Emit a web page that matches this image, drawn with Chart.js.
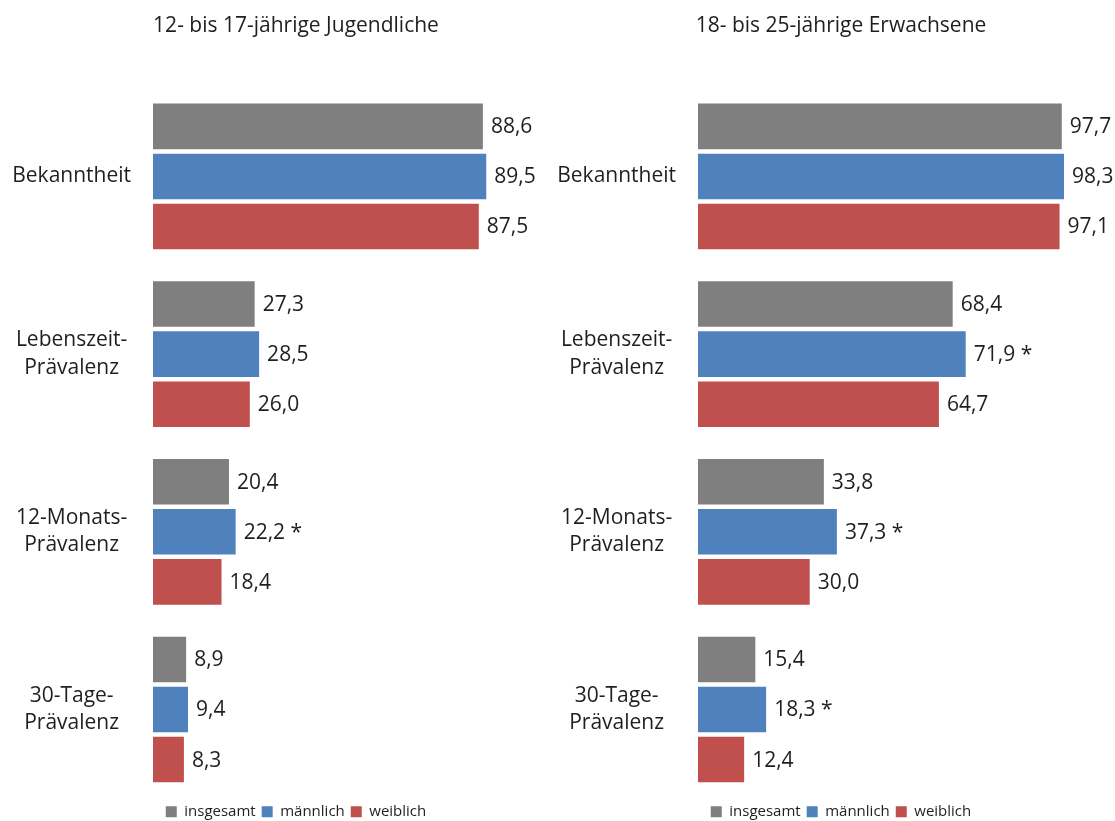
<!DOCTYPE html>
<html>
<head>
<meta charset="utf-8">
<script src="https://cdn.jsdelivr.net/npm/chart.js@4/dist/chart.umd.min.js"></script>
<style>
  html, body { margin: 0; padding: 0; background: #fff; overflow: hidden; }
  #wrap { position: relative; width: 1115px; height: 821px; overflow: hidden; }
  .panel { position: absolute; top: 0; width: 592px; height: 836px; }
  #left { left: 0; }
  #right { left: 545px; }
</style>
</head>
<body>
<div id="wrap">
  <div class="panel" id="left"><canvas id="chartLeft"></canvas></div>
  <div class="panel" id="right"><canvas id="chartRight"></canvas></div>
</div>
<script>
// Kategorien (y-Achse)
const categories = [
  ['Bekanntheit'],
  ['Lebenszeit-', 'Prävalenz'],
  ['12-Monats-', 'Prävalenz'],
  ['30-Tage-', 'Prävalenz']
];
const seriesNames = ['insgesamt', 'männlich', 'weiblich'];
const seriesColors = ['#7F7F7F', '#4F81BD', '#C0504D'];

// 12- bis 17-jährige Jugendliche
const youthTitle = '12- bis 17-jährige Jugendliche';
const youthTotal = [88.6, 27.3, 20.4, 8.9];
const youthMale = [89.5, 28.5, 22.2, 9.4];
const youthFemale = [87.5, 26.0, 18.4, 8.3];
const youthMaleSig = [false, false, true, false];

// 18- bis 25-jährige Erwachsene
const adultTitle = '18- bis 25-jährige Erwachsene';
const adultTotal = [97.7, 68.4, 33.8, 15.4];
const adultMale = [98.3, 71.9, 37.3, 18.3];
const adultFemale = [97.1, 64.7, 30.0, 12.4];
const adultMaleSig = [false, true, true, true];

const FONT = '"Open Sans", "DejaVu Sans", sans-serif';
const TEXT = '#1f1f1f';
const H = 834;

// Werte rechts neben die Balken schreiben
const valueLabels = {
  id: 'valueLabels',
  afterDatasetsDraw(chart) {
    const ctx = chart.ctx;
    ctx.save();
    ctx.font = `21px ${FONT}`;
    ctx.fillStyle = TEXT;
    ctx.textAlign = 'left';
    ctx.textBaseline = 'middle';
    chart.data.datasets.forEach((ds, i) => {
      const meta = chart.getDatasetMeta(i);
      meta.data.forEach((bar, j) => {
        let txt = ds.data[j].toFixed(1).replace('.', ',');
        if (ds.sig && ds.sig[j]) {
          txt += ' *';
        }
        ctx.fillText(txt, bar.x + 8, bar.y + 1);
      });
    });
    ctx.restore();
  }
};

function makeChart(canvasId, title, values, sig) {
  const datasets = values.map((data, i) => ({
    label: seriesNames[i],
    data: data,
    backgroundColor: seriesColors[i],
    borderWidth: 0,
    barPercentage: 0.91,
    categoryPercentage: 0.845,
    sig: i === 1 ? sig : null
  }));

  return new Chart(document.getElementById(canvasId), {
    type: 'bar',
    data: { labels: categories, datasets: datasets },
    plugins: [valueLabels],
    options: {
      indexAxis: 'y',
      responsive: false,
      animation: false,
      devicePixelRatio: 1,
      layout: { padding: 0 },
      scales: {
        x: { display: false, min: 0, max: 117.9 },
        y: {
          grid: { display: false, drawTicks: false },
          border: { display: false },
          afterFit: (scale) => { scale.width = 153; },
          ticks: {
            color: TEXT,
            font: { family: FONT, size: 21, lineHeight: 1.3 },
            padding: 22,
            crossAlign: 'center'
          }
        }
      },
      plugins: {
        title: {
          display: true,
          text: title,
          color: TEXT,
          font: { family: FONT, size: 21, weight: 'normal' },
          padding: { top: 13.4, bottom: 49 }
        },
        legend: {
          position: 'bottom',
          labels: {
            color: TEXT,
            font: { family: FONT, size: 15 },
            boxWidth: 11,
            boxHeight: 11,
            padding: 6
          }
        },
        tooltip: { enabled: false }
      }
    }
  });
}

function sizeCanvas(id) {
  const c = document.getElementById(id);
  c.width = 592;
  c.height = H;
  c.style.width = '592px';
  c.style.height = H + 'px';
}

sizeCanvas('chartLeft');
sizeCanvas('chartRight');
makeChart('chartLeft', youthTitle, [youthTotal, youthMale, youthFemale], youthMaleSig);
makeChart('chartRight', adultTitle, [adultTotal, adultMale, adultFemale], adultMaleSig);
</script>
</body>
</html>
